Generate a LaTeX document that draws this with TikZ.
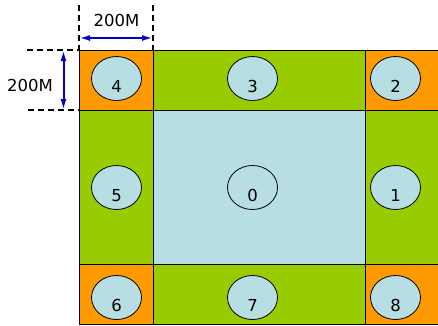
\documentclass[tikz,border=0pt]{standalone}
\usepackage{fontspec}
\setmainfont{DejaVu Sans}
\usetikzlibrary{arrows.meta,shapes.geometric}
\definecolor{cellorange}{HTML}{FF9900}
\definecolor{cellgreen}{HTML}{99CC00}
\definecolor{cellblue}{HTML}{B7DEE3}
\definecolor{dimblue}{HTML}{0000CC}
\tikzset{
  cell/.style={draw=black, line width=1pt},
  site/.style={ellipse, draw=black, line width=0.8pt, fill=cellblue,
    minimum width=50pt, minimum height=44pt, inner sep=0pt},
  sitelabel/.style={font=\fontsize{16.5}{18}\selectfont, inner sep=0pt},
  dimline/.style={line width=1.6pt, dash pattern=on 6pt off 4pt},
  dimarrow/.style={draw=dimblue, line width=2pt,
    {Latex[length=11pt,width=6pt]}-{Latex[length=11pt,width=6pt]}},
  dimtext/.style={font=\fontsize{16.5}{18}\selectfont, inner sep=0pt}
}
\begin{document}
\begin{tikzpicture}[x=1pt, y=-1pt]
\useasboundingbox (0,0) rectangle (438,325);
% grid cells: corners orange, edges green, centre blue
\fill[cellorange] (79,50) rectangle (153,110);
\fill[cellgreen]  (153,50) rectangle (365,110);
\fill[cellorange] (365,50) rectangle (440,110);
\fill[cellgreen]  (79,110) rectangle (153,264);
\fill[cellblue]   (153,110) rectangle (365,264);
\fill[cellgreen]  (365,110) rectangle (440,264);
\fill[cellorange] (79,264) rectangle (153,324);
\fill[cellgreen]  (153,264) rectangle (365,324);
\fill[cellorange] (365,264) rectangle (440,324);
\draw[cell] (79,50) rectangle (440,324);
\draw[cell] (153,50) -- (153,324) (365,50) -- (365,324);
\draw[cell] (79,110) -- (440,110) (79,264) -- (440,264);
% cell sites with their numbers
\foreach \n/\x/\y in {4/116.5/78.5, 3/252.5/78.5, 2/395.5/78.5,
                      5/116.5/187.5, 0/252.5/187.5, 1/395.5/187.5,
                      6/116.5/297.5, 7/252.5/297.5, 8/395.5/297.5}{
  \node[site] (n\n) at (\x,\y) {};
  \node[sitelabel] (t\n) at (\x,\y+8) {\n};
}
% dimension: cell width
\coordinate (wl) at (79,5);
\coordinate (wr) at (153,5);
\coordinate (wla) at (79,38);
\coordinate (wra) at (153,38);
\draw[dimline] (wl) -- (79,50);
\draw[dimline] (wr) -- (153,50);
\draw[dimarrow] (wla) -- (wra);
\node[dimtext] (wtext) at (116.5,20) {200M};
% dimension: cell height
\coordinate (ht) at (27,50);
\coordinate (hb) at (28,110);
\coordinate (hta) at (63.5,50);
\coordinate (hba) at (63.5,110);
\draw[dimline] (ht) -- (79,50);
\draw[dimline] (hb) -- (79,110);
\draw[dimarrow] (hta) -- (hba);
\node[dimtext] (htext) at (30,85) {200M};
\end{tikzpicture}
\end{document}
